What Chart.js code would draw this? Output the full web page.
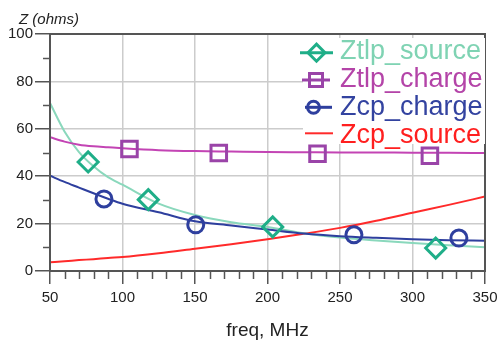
<!DOCTYPE html>
<html><head><meta charset="utf-8">
<script src="https://cdn.jsdelivr.net/npm/chart.js@4/dist/chart.umd.min.js"></script>
<style>html,body{margin:0;padding:0;background:#fff;}#wrap{width:499px;height:342px;position:relative;}</style>
</head><body><div id="wrap"><canvas id="c"></canvas></div>
<script>
// ---- data ----
const freqs = [50,60,70,80,90,100,125,150,175,200,225,250,275,300,325,350];
const ztlpSource = [70.9,58.9,50.2,44.2,39.6,36.4,28.4,23.6,20.6,18.6,15.9,14.1,12.9,11.8,10.9,10.0];
const ztlpCharge = [56.4,54.6,53.3,52.6,52.2,51.8,51.0,50.6,50.4,50.2,50.1,50.0,50.0,49.9,49.9,49.8];
const zcpCharge  = [40.2,37.6,35.2,32.8,30.5,28.4,24.8,21.0,19.2,17.5,15.8,14.7,14.0,13.4,13.0,12.8];
const zcpSource  = [3.7,4.1,4.6,5.0,5.5,5.9,7.5,9.4,11.3,13.4,15.7,18.2,21.2,24.6,27.9,31.4];
const diamondFreq = [76.3,117.8,203.6,316];
const diamondZ    = [46,30.1,18.6,9.7];
const squareFreq  = [104.8,166.4,234.5,312];
const squareZ     = [51.5,49.8,49.5,48.6];
const circleFreq  = [87.2,150.5,259.6,332];
const circleZ     = [30.4,19.5,15.3,13.9];
const seriesNames = ['Ztlp_source','Ztlp_charge','Zcp_charge','Zcp_source'];
const xTitle = 'freq, MHz';
const yTitle = 'Z (ohms)';
const xMin = 50, xMax = 350, xMajor = 50, xMinor = 10;
const yMin = 0, yMax = 100, yMajor = 20, yMinor = 10;

const pts = (xs, ys) => xs.map((x, i) => ({x: x, y: ys[i]}));
const FONT = "'Liberation Sans', Arial, sans-serif";
const AXIS = '#555555', GRID = '#cccccc';

const lineDs = (label, ys, color, order) => ({
  label, data: pts(freqs, ys), showLine: true, borderColor: color, borderWidth: 2,
  pointRadius: 0, cubicInterpolationMode: 'monotone', fill: false, order
});
const markDs = (label, xs, ys, color, style, r, order) => ({
  label, data: pts(xs, ys), showLine: false, pointStyle: style, pointRadius: r,
  pointBorderWidth: 3, pointBorderColor: color, pointBackgroundColor: 'rgba(0,0,0,0)',
  borderColor: color, order
});

const legendItems = [
  {text: seriesNames[0], textColor: '#7fd3b3', lineColor: '#1fae88', marker: 'diamond', y: 59.3, my: 52.7, x1: 300, x2: 333},
  {text: seriesNames[1], textColor: '#b444a8', lineColor: '#9a44a8', marker: 'square', y: 86.7, my: 80, x1: 302, x2: 330},
  {text: seriesNames[2], textColor: '#3343a0', lineColor: '#2e3f9e', marker: 'circle', y: 115, my: 107.3, x1: 305, x2: 332},
  {text: seriesNames[3], textColor: '#ff1f1f', lineColor: '#ff2a2a', marker: null, y: 142.7, my: 133.3, x1: 305, x2: 333}
];

const deco = {
  id: 'deco',
  beforeDatasetsDraw(chart) {
    const {ctx, chartArea: a, scales} = chart;
    ctx.save();
    ctx.strokeStyle = AXIS; ctx.lineWidth = 1.5;
    scales.x.ticks.forEach(t => {
      if (t.value % xMajor !== 0) {
        const px = Math.round(scales.x.getPixelForValue(t.value)) + 0.5;
        ctx.beginPath(); ctx.moveTo(px, a.bottom); ctx.lineTo(px, a.bottom + 8); ctx.stroke();
      }
    });
    scales.y.ticks.forEach(t => {
      if (t.value % yMajor !== 0) {
        const py = Math.round(scales.y.getPixelForValue(t.value)) + 0.5;
        ctx.beginPath(); ctx.moveTo(a.left - 7, py); ctx.lineTo(a.left, py); ctx.stroke();
      }
    });
    ctx.restore();
  },
  afterDraw(chart) {
    const {ctx, chartArea: a} = chart;
    ctx.save();
    ctx.strokeStyle = AXIS; ctx.lineWidth = 2;
    ctx.strokeRect(a.left, a.top, a.right - a.left, a.bottom - a.top);
    ctx.fillStyle = '#222';
    ctx.font = 'italic 15px ' + FONT;
    ctx.textBaseline = 'alphabetic'; ctx.textAlign = 'left';
    ctx.fillText(yTitle, 19, 23.5);
    ctx.fillStyle = '#ffffff';
    ctx.fillRect(303, 38, 182, 106);
    legendItems.forEach(it => {
      ctx.strokeStyle = it.lineColor; ctx.lineWidth = it.marker ? 3 : 2;
      ctx.beginPath(); ctx.moveTo(it.x1, it.my); ctx.lineTo(it.x2, it.my); ctx.stroke();
      const cx = (it.x1 + it.x2) / 2 - (it.marker === 'circle' ? 5 : 0);
      ctx.lineWidth = 3;
      if (it.marker === 'diamond') {
        const r = 8.5;
        ctx.beginPath(); ctx.moveTo(cx - r, it.my); ctx.lineTo(cx, it.my - r);
        ctx.lineTo(cx + r, it.my); ctx.lineTo(cx, it.my + r); ctx.closePath(); ctx.stroke();
      } else if (it.marker === 'square') {
        const h = 6.5;
        ctx.strokeRect(cx - h, it.my - h, 2 * h, 2 * h);
      } else if (it.marker === 'circle') {
        ctx.beginPath(); ctx.arc(cx, it.my, 6, 0, Math.PI * 2); ctx.stroke();
      }
      ctx.fillStyle = it.textColor;
      ctx.font = '27px ' + FONT;
      ctx.fillText(it.text, 340, it.y);
    });
    ctx.restore();
  }
};

new Chart(document.getElementById('c'), {
  type: 'scatter',
  data: {
    datasets: [
      markDs(seriesNames[0] + ' marker', diamondFreq, diamondZ, '#1fae88', 'rectRot', 10, 1),
      markDs(seriesNames[1] + ' marker', squareFreq, squareZ, '#9a44a8', 'rect', 11, 2),
      markDs(seriesNames[2] + ' marker', circleFreq, circleZ, '#2e3f9e', 'circle', 8, 3),
      lineDs(seriesNames[0], ztlpSource, '#8ad8bc', 6),
      lineDs(seriesNames[1], ztlpCharge, '#c344b4', 5),
      lineDs(seriesNames[2], zcpCharge, '#2e3f9e', 4),
      lineDs(seriesNames[3], zcpSource, '#ff2a2a', 7)
    ]
  },
  options: {
    responsive: true, maintainAspectRatio: false, animation: false,
    layout: {padding: {top: 34, right: 11, left: 0, bottom: 0}},
    plugins: {legend: {display: false}, tooltip: {enabled: false}},
    scales: {
      x: {
        type: 'linear', min: xMin, max: xMax,
        afterFit: s => { s.height = 71; s.paddingLeft = 0; s.paddingRight = 0; },
        ticks: {stepSize: xMinor, autoSkip: false, maxRotation: 0, padding: 5, color: '#222',
          font: {family: FONT, size: 15},
          callback: v => (v % xMajor === 0 ? String(v) : '')},
        grid: {color: c => (c.tick && c.tick.value % xMajor === 0 ? GRID : 'rgba(0,0,0,0)'),
          lineWidth: 1.5, tickLength: 13,
          tickColor: c => (c.tick && c.tick.value % xMajor === 0 ? AXIS : 'rgba(0,0,0,0)'),
          tickWidth: 1.5},
        border: {color: AXIS, width: 2},
        title: {display: true, text: xTitle, color: '#222', font: {family: FONT, size: 19}, padding: {top: 0, bottom: 0}}
      },
      y: {
        min: yMin, max: yMax,
        afterFit: s => { s.width = 50; s.paddingTop = 0; s.paddingBottom = 0; },
        ticks: {stepSize: yMinor, autoSkip: false, padding: 2, color: '#222',
          font: {family: FONT, size: 15},
          callback: v => (v % yMajor === 0 ? String(v) : '')},
        grid: {color: c => (c.tick && c.tick.value % yMajor === 0 ? GRID : 'rgba(0,0,0,0)'),
          lineWidth: 1.5, tickLength: 15,
          tickColor: c => (c.tick && c.tick.value % yMajor === 0 ? AXIS : 'rgba(0,0,0,0)'),
          tickWidth: 1.5},
        border: {color: AXIS, width: 2}
      }
    }
  },
  plugins: [deco]
});
</script></body></html>
